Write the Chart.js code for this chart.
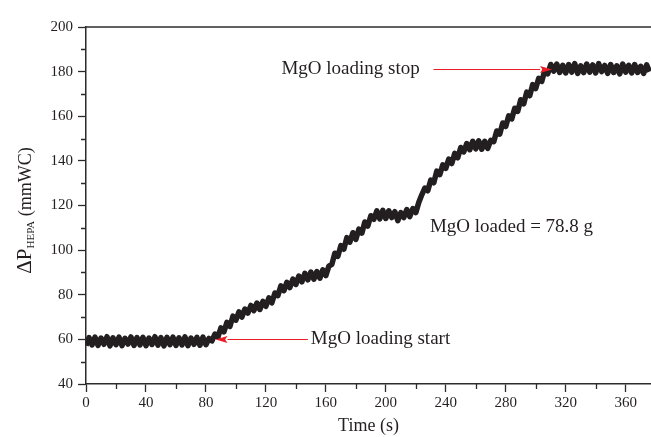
<!DOCTYPE html>
<html>
<head>
<meta charset="utf-8">
<script src="https://cdn.jsdelivr.net/npm/chart.js@4.4.1/dist/chart.umd.min.js"></script>
<style>
  html, body { margin: 0; padding: 0; background: #fff; }
  #wrap { width: 651px; height: 437px; }
</style>
</head>
<body>
<div id="wrap"><canvas id="c" width="651" height="437"></canvas></div>
<script>
// ---- Data ----
const SAMPLE_START_S = 0;
const SAMPLE_STEP_S = 2;
const dpValues = [
  57.2, 60.8, 57.5, 61.0, 57.3, 60.6, 57.8, 61.2, 57.1, 60.7,
  57.6, 61.0, 57.2, 60.5, 57.9, 61.1, 57.3, 60.8, 57.5, 60.9,
  57.2, 60.6, 57.7, 61.2, 57.4, 60.8, 57.1, 60.9, 57.6, 61.0,
  57.3, 60.7, 57.5, 61.1, 57.2, 60.6, 57.8, 60.9, 57.4, 61.0,
  57.6, 60.4,
  59.3, 62.4, 61.0, 65.2, 63.4, 67.6, 65.8, 70.4, 68.6, 72.3,
  70.0, 73.6, 71.8, 75.2, 72.9, 76.3, 73.4, 77.0, 74.8, 78.6,
  76.4, 80.8, 79.6, 84.0, 81.8, 85.6, 83.2, 87.0, 84.6, 88.4,
  85.8, 89.6, 86.7, 90.2, 87.0, 90.4, 87.4, 91.2, 88.6, 92.8,
  93.6, 98.6, 97.2, 102.0, 100.4, 105.6, 103.6, 107.8, 104.8, 109.4,
  107.6, 112.6, 110.8, 115.4, 113.8, 117.6, 114.0, 117.8, 114.2, 117.6,
  114.6, 117.2, 113.2, 116.8, 114.6, 118.2, 115.0, 118.6, 116.8, 121.4,
  124.8, 127.8, 126.6, 131.4, 130.2, 135.4, 133.8, 138.2, 136.6, 140.8,
  138.8, 143.4, 141.4, 146.0, 144.0, 147.8, 145.0, 148.8, 145.4, 149.0,
  145.2, 148.8, 145.6, 149.2, 148.6, 153.4, 152.0, 157.0, 155.4, 160.2,
  158.8, 163.6, 162.2, 167.4, 165.6, 170.8, 169.2, 174.2, 172.4, 177.0,
  175.6, 180.4, 179.0, 183.2, 180.2, 183.4, 179.6, 182.8, 179.4, 183.2,
  179.8, 183.6, 179.2, 182.6, 179.6, 183.4, 179.8, 183.0, 179.4, 183.6,
  180.0, 182.8, 179.2, 183.2, 179.6, 182.6, 179.0, 183.4, 179.8, 182.8,
  179.4, 183.2, 179.6, 182.4, 179.2, 183.0, 180.0
];
const xMajorTicks = [0, 40, 80, 120, 160, 200, 240, 280, 320, 360];
const xMinorTicks = [20, 60, 100, 140, 180, 220, 260, 300, 340];
const yMajorTicks = [40, 60, 80, 100, 120, 140, 160, 180, 200];
const yMinorTicks = [50, 70, 90, 110, 130, 150, 170, 190];
const xRange = [0, 376.9];
const yRange = [40, 200];

// annotations in data coordinates
const annotTexts = ["MgO loading stop", "MgO loading start", "MgO loaded = 78.8 g"];
const annotTextX = [130.4, 150, 229.4];
const annotTextY = [181.1, 60.3, 110.4];
const arrowFromX = [231.8, 148.0];
const arrowToX = [310.9, 86.4];
const arrowY = [181.3, 60.0];

const points = dpValues.map((v, i) => ({ x: SAMPLE_START_S + i * SAMPLE_STEP_S, y: v }));

const FONT = "'Liberation Serif', 'Times New Roman', serif";
const INK = '#231f20';
const AXIS = '#2b2b2b';
const RED = '#ed1c24';

const decorPlugin = {
  id: 'decor',
  afterDraw(chart) {
    const ctx = chart.ctx;
    const xs = chart.scales.x, ys = chart.scales.y;
    const area = chart.chartArea;
    ctx.save();
    // top frame line
    ctx.strokeStyle = AXIS;
    ctx.lineWidth = 1.5;
    ctx.beginPath();
    ctx.moveTo(area.left, area.top);
    ctx.lineTo(area.right, area.top);
    ctx.stroke();
    // minor ticks
    ctx.lineWidth = 1.3;
    ctx.beginPath();
    xMinorTicks.forEach(v => {
      const px = Math.round(xs.getPixelForValue(v)) + 0.5;
      ctx.moveTo(px, area.bottom);
      ctx.lineTo(px, area.bottom + 5);
    });
    yMinorTicks.forEach(v => {
      const py = Math.round(ys.getPixelForValue(v)) + 0.5;
      ctx.moveTo(area.left, py);
      ctx.lineTo(area.left - 5, py);
    });
    ctx.stroke();

    // y-axis title with subscript
    ctx.fillStyle = INK;
    ctx.translate(31, (area.top + area.bottom) / 2 + 5);
    ctx.rotate(-Math.PI / 2);
    ctx.textBaseline = 'alphabetic';
    ctx.textAlign = 'left';
    const f1 = "21px " + FONT, f2 = "11px " + FONT, f3 = "18px " + FONT;
    ctx.font = f1; const w1 = ctx.measureText('ΔP').width;
    ctx.font = f2; const w2 = ctx.measureText('HEPA').width;
    ctx.font = f3; const w3 = ctx.measureText(' (mmWC)').width;
    let x0 = -(w1 + w2 + w3) / 2;
    ctx.font = f1; ctx.fillText('ΔP', x0, 0); x0 += w1;
    ctx.font = f2; ctx.fillText('HEPA', x0, 3); x0 += w2;
    ctx.font = f3; ctx.fillText(' (mmWC)', x0, 0);
    ctx.restore();

    // annotations
    ctx.save();
    ctx.fillStyle = INK;
    ctx.font = "19px " + FONT;
    ctx.textBaseline = 'middle';
    ctx.textAlign = 'left';
    annotTexts.forEach((t, i) => {
      ctx.fillText(t, xs.getPixelForValue(annotTextX[i]), ys.getPixelForValue(annotTextY[i]));
    });
    ctx.strokeStyle = RED;
    ctx.fillStyle = RED;
    ctx.lineWidth = 1;
    arrowFromX.forEach((fx, i) => {
      const x1 = xs.getPixelForValue(fx), x2 = xs.getPixelForValue(arrowToX[i]);
      const y = Math.round(ys.getPixelForValue(arrowY[i])) + 0.5;
      const dir = Math.sign(x2 - x1);
      const headLen = 12, headW = 3.5;
      ctx.beginPath();
      ctx.moveTo(x1, y);
      ctx.lineTo(x2 - dir * headLen, y);
      ctx.stroke();
      ctx.beginPath();
      ctx.moveTo(x2, y);
      ctx.lineTo(x2 - dir * headLen, y - headW);
      ctx.lineTo(x2 - dir * headLen * 0.8, y);
      ctx.lineTo(x2 - dir * headLen, y + headW);
      ctx.closePath();
      ctx.fill();
    });
    ctx.restore();
  }
};

new Chart(document.getElementById('c'), {
  type: 'line',
  data: {
    datasets: [{
      data: points,
      borderColor: INK,
      borderWidth: 5.5,
      pointRadius: 0,
      tension: 0,
      fill: false,
      borderJoinStyle: 'round'
    }]
  },
  options: {
    responsive: false,
    animation: false,
    events: [],
    layout: { padding: { top: 27, right: 0, left: 0, bottom: 0 } },
    plugins: { legend: { display: false }, tooltip: { enabled: false } },
    scales: {
      x: {
        type: 'linear',
        min: xRange[0], max: xRange[1],
        afterBuildTicks: s => { s.ticks = xMajorTicks.map(v => ({ value: v })); },
        afterFit: s => { s.height = 53; },
        border: { display: true, color: AXIS, width: 1.5 },
        grid: { drawOnChartArea: false, drawTicks: true, tickLength: 8, tickColor: AXIS, tickWidth: 1.3 },
        ticks: { color: INK, font: { family: FONT, size: 15 }, padding: 2, maxRotation: 0, autoSkip: false },
        title: { display: true, text: 'Time (s)', color: INK, font: { family: FONT, size: 18 }, padding: { top: 0, bottom: 0 } }
      },
      y: {
        min: yRange[0], max: yRange[1],
        afterBuildTicks: s => { s.ticks = yMajorTicks.map(v => ({ value: v })); },
        afterFit: s => { s.width = 86; },
        border: { display: true, color: AXIS, width: 1.5 },
        grid: { drawOnChartArea: false, drawTicks: true, tickLength: 8, tickColor: AXIS, tickWidth: 1.3 },
        ticks: { color: INK, font: { family: FONT, size: 15 }, padding: 5, autoSkip: false }
      }
    }
  },
  plugins: [decorPlugin]
});
</script>
</body>
</html>
